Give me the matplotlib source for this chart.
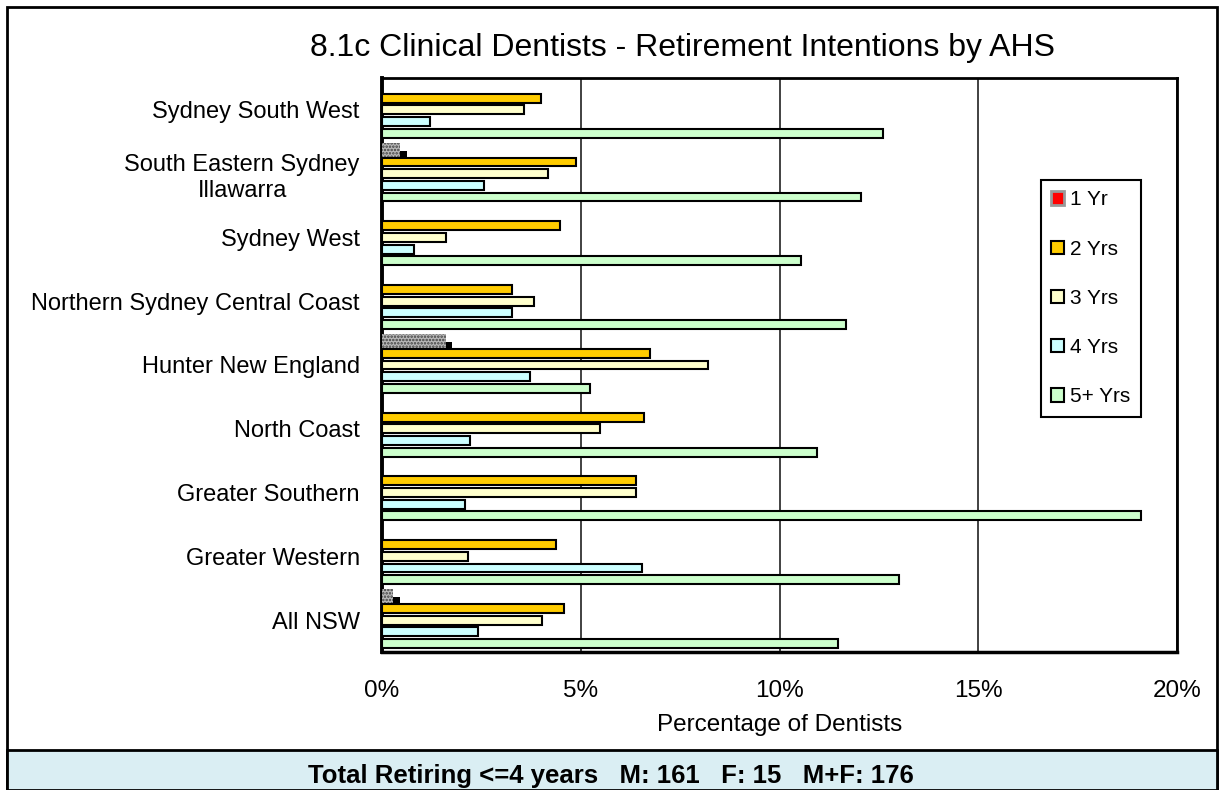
import matplotlib.pyplot as plt
from matplotlib.patches import Patch, Rectangle

plt.rcParams['font.family'] = ['Liberation Sans', 'DejaVu Sans']
plt.rcParams['hatch.linewidth'] = 1.2

# Data (percent of dentists), categories listed top to bottom
regions = ["Sydney South West", "South Eastern Sydney\nIllawarra", "Sydney West",
           "Northern Sydney Central Coast", "Hunter New England", "North Coast",
           "Greater Southern", "Greater Western", "All NSW"]
yr1 = [0.0, 0.45, 0.0, 0.0, 1.6, 0.0, 0.0, 0.0, 0.28]
yr2 = [4.0, 4.87, 4.47, 3.27, 6.73, 6.58, 6.38, 4.37, 4.57]
yr3 = [3.57, 4.17, 1.6, 3.82, 8.2, 5.48, 6.38, 2.16, 4.02]
yr4 = [1.2, 2.56, 0.8, 3.27, 3.72, 2.21, 2.1, 6.53, 2.41]
yr5 = [12.6, 12.06, 10.55, 11.68, 5.23, 10.95, 19.1, 13.0, 11.46]

series_labels = ["1 Yr", "2 Yrs", "3 Yrs", "4 Yrs", "5+ Yrs"]
colors = ["#FF0000", "#FFCC00", "#FFFFCC", "#CCFFFF", "#CCFFCC"]
xticks = [0, 5, 10, 15, 20]
footer = "Total Retiring <=4 years   M: 161   F: 15   M+F: 176"

W, H = 1219, 790
fig = plt.figure(figsize=(W / 100, H / 100), dpi=100)

# outer frame and footer band
fig.patches.append(Rectangle((7 / W, 0), 1210 / W, 783 / H, transform=fig.transFigure,
                             facecolor='white', edgecolor='black', lw=2, zorder=0))
fig.patches.append(Rectangle((7 / W, 0), 1210 / W, 40 / H, transform=fig.transFigure,
                             facecolor='#DAEEF3', edgecolor='black', lw=2, zorder=1))

ax = fig.add_axes([382 / W, 1 - 652 / H, 795 / W, 574 / H])
ax.set_zorder(2)

pos = list(range(len(regions)))
step = 0.183

# 1 Yr: patterned bar with drop shadow
idx1 = [i for i, v in enumerate(yr1) if v > 0]
y1 = [pos[i] - 2 * step for i in idx1]
v1 = [yr1[i] for i in idx1]
ax.barh([y + 0.12 for y in y1], v1, left=0.17, height=0.23, color='black', zorder=2)
ax.barh(y1, v1, height=0.23, facecolor='#b8b8b8', edgecolor='#404040',
        hatch='.....', lw=0, zorder=3)

for k, vals in enumerate([yr2, yr3, yr4, yr5], start=1):
    ax.barh([p + (k - 2) * step for p in pos], vals, height=0.14,
            color=colors[k], edgecolor='black', lw=1.5, zorder=4)

ax.set_xlim(0, 20)
ax.set_ylim(len(regions) - 0.5, -0.5)
ax.set_xticks(xticks)
ax.set_xticklabels([f"{t}%" for t in xticks])
ax.set_yticks(pos)
ax.set_yticklabels(regions, multialignment='center')
ax.tick_params(axis='x', length=0, pad=20, labelsize=17.5)
ax.tick_params(axis='y', length=0, pad=16, labelsize=17)
ax.grid(axis='x', color='#333333', lw=1.3)
ax.set_axisbelow(True)
for side, lw in [('left', 2.8), ('bottom', 2.5), ('top', 2), ('right', 2)]:
    ax.spines[side].set_linewidth(lw)

fig.text(780 / W, 1 - 725 / H, "Percentage of Dentists", ha='center', va='center', fontsize=17.5)
fig.text(682 / W, 1 - 48 / H, "8.1c Clinical Dentists - Retirement Intentions by AHS",
         ha='center', va='center', fontsize=23)
fig.text(611 / W, 1 - 776 / H, footer, ha='center', va='center', fontsize=18.5,
         fontweight='bold')

handles = [Patch(facecolor=colors[0], edgecolor='#999999', lw=2)]
handles += [Patch(facecolor=c, edgecolor='black', lw=1.5) for c in colors[1:]]
leg = fig.legend(handles, series_labels, loc='upper left',
                 bbox_to_anchor=(1041 / W, 1 - 180 / H), borderaxespad=0,
                 fontsize=15, frameon=True, fancybox=False, framealpha=1,
                 handlelength=0.6, handleheight=0.6, handletextpad=0.3,
                 labelspacing=1.45, borderpad=0.5)
leg.get_frame().set_edgecolor('black')
leg.get_frame().set_linewidth(1.5)
leg.set_zorder(5)

fig.savefig("out.png", dpi=100)
